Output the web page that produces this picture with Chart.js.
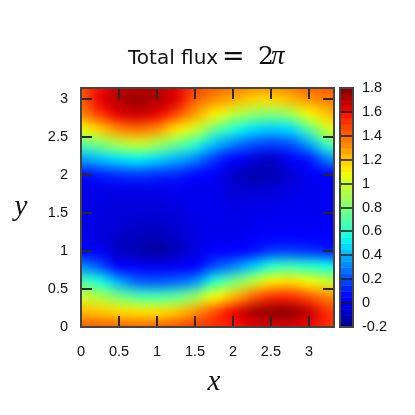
<!DOCTYPE html>
<html>
<head>
<meta charset="utf-8">
<script src="https://cdn.jsdelivr.net/npm/chart.js@4.4.1/dist/chart.umd.min.js"></script>
<style>
  html, body { margin: 0; padding: 0; background: #fff; }
  #wrap { width: 415px; height: 415px; }
</style>
</head>
<body>
<div id="wrap"><canvas id="chart" width="415" height="415"></canvas></div>
<script>
// grid nodes (x across, y up)
const xNodes = [0, 0.25, 0.5, 0.75, 1, 1.25, 1.5, 1.75, 2, 2.25, 2.5, 2.75, 3, 3.25, 3.5];
const yNodes = [0, 0.2, 0.4, 0.6, 0.8, 1, 1.2, 1.4, 1.6, 1.8, 2, 2.2, 2.4, 2.6, 2.8, 3, 3.2];

// flux values, one row per y node (bottom row first)
const fluxRows = [
  [1.42, 1.42, 1.41, 1.40, 1.42, 1.45, 1.50, 1.53, 1.57, 1.62, 1.63, 1.63, 1.60, 1.53, 1.48],
  [1.23, 1.20, 1.16, 1.14, 1.14, 1.19, 1.30, 1.45, 1.60, 1.72, 1.77, 1.77, 1.68, 1.52, 1.45],
  [0.99, 0.92, 0.80, 0.70, 0.68, 0.73, 0.86, 1.08, 1.22, 1.40, 1.52, 1.53, 1.44, 1.33, 1.27],
  [0.68, 0.57, 0.38, 0.24, 0.22, 0.25, 0.33, 0.60, 0.78, 0.94, 1.11, 1.15, 1.08, 0.99, 0.93],
  [0.32, 0.21, 0.05, 0.00, -0.01, 0.00, 0.04, 0.20, 0.30, 0.44, 0.60, 0.65, 0.60, 0.55, 0.50],
  [0.04, 0.00, -0.08, -0.11, -0.14, -0.10, -0.03, 0.02, 0.04, 0.08, 0.16, 0.17, 0.15, 0.11, 0.09],
  [-0.02, -0.04, -0.07, -0.09, -0.10, -0.07, -0.03, -0.01, -0.01, 0.01, 0.02, 0.02, 0.02, 0.02, 0.01],
  [-0.02, -0.03, -0.05, -0.06, -0.07, -0.05, -0.02, -0.01, -0.02, -0.01, 0.00, 0.00, 0.00, 0.00, 0.00],
  [-0.02, -0.03, -0.04, -0.04, -0.04, -0.03, -0.01, -0.01, -0.03, -0.02, -0.02, -0.01, -0.01, -0.01, -0.01],
  [-0.02, -0.02, -0.02, -0.02, -0.02, -0.01, -0.01, -0.01, -0.05, -0.06, -0.05, -0.03, -0.01, -0.01, -0.01],
  [0.07, 0.11, 0.14, 0.16, 0.14, 0.12, 0.07, 0.01, -0.07, -0.11, -0.11, -0.06, 0.00, 0.04, 0.08],
  [0.36, 0.42, 0.48, 0.51, 0.46, 0.39, 0.30, 0.15, 0.03, -0.04, -0.08, 0.00, 0.09, 0.30, 0.40],
  [0.70, 0.80, 0.91, 0.98, 0.89, 0.76, 0.61, 0.42, 0.30, 0.21, 0.17, 0.20, 0.37, 0.65, 0.76],
  [1.08, 1.19, 1.33, 1.38, 1.31, 1.14, 1.01, 0.76, 0.59, 0.49, 0.45, 0.48, 0.72, 1.01, 1.08],
  [1.33, 1.50, 1.63, 1.67, 1.62, 1.47, 1.28, 1.12, 0.97, 0.86, 0.82, 0.88, 1.09, 1.21, 1.25],
  [1.42, 1.62, 1.72, 1.75, 1.72, 1.64, 1.43, 1.33, 1.26, 1.18, 1.17, 1.23, 1.31, 1.36, 1.38],
  [1.46, 1.58, 1.65, 1.68, 1.67, 1.60, 1.50, 1.43, 1.39, 1.34, 1.33, 1.38, 1.42, 1.45, 1.46],
];

const xTicks = [0, 0.5, 1, 1.5, 2, 2.5, 3];
const xTickLabels = ["0", "0.5", "1", "1.5", "2", "2.5", "3"];
const yTicks = [0, 0.5, 1, 1.5, 2, 2.5, 3];
const yTickLabels = ["0", "0.5", "1", "1.5", "2", "2.5", "3"];
const cbTicks = [-0.2, 0, 0.2, 0.4, 0.6, 0.8, 1, 1.2, 1.4, 1.6, 1.8];
const cbLabels = ["-0.2", "0", "0.2", "0.4", "0.6", "0.8", "1", "1.2", "1.4", "1.6", "1.8"];

const zMin = -0.2;
const zMax = 1.8;
const xMax = 3.33;
const yMax = Math.PI;

function lerpTable(t, table) {
  for (let i = 1; i < table.length; i++) {
    if (t <= table[i][0]) {
      const [t0, v0] = table[i - 1];
      const [t1, v1] = table[i];
      return v0 + (v1 - v0) * (t - t0) / (t1 - t0);
    }
  }
  return table[table.length - 1][1];
}

// jet colormap
function jet(v) {
  const t = Math.min(1, Math.max(0, (v - zMin) / (zMax - zMin)));
  const r = lerpTable(t, [[0, 0], [0.35, 0], [0.66, 1], [0.89, 1], [1, 0.5]]);
  const g = lerpTable(t, [[0, 0], [0.125, 0], [0.375, 1], [0.64, 1], [0.91, 0], [1, 0]]);
  const b = lerpTable(t, [[0, 0.5], [0.11, 1], [0.34, 1], [0.65, 0], [1, 0]]);
  return [Math.round(r * 255), Math.round(g * 255), Math.round(b * 255)];
}

const heatmap = {
  id: "heatmap",
  beforeDatasetsDraw(chart) {
    const { ctx, chartArea, scales } = chart;
    const nx = xNodes.length;
    const ny = yNodes.length;
    const off = document.createElement("canvas");
    off.width = nx;
    off.height = ny;
    const octx = off.getContext("2d");
    const img = octx.createImageData(nx, ny);
    for (let j = 0; j < ny; j++) {
      const row = fluxRows[ny - 1 - j]; // image rows go top down
      for (let i = 0; i < nx; i++) {
        const [r, g, b] = jet(row[i]);
        const k = (j * nx + i) * 4;
        img.data[k] = r;
        img.data[k + 1] = g;
        img.data[k + 2] = b;
        img.data[k + 3] = 255;
      }
    }
    octx.putImageData(img, 0, 0);

    const dx = xNodes[1] - xNodes[0];
    const dy = yNodes[1] - yNodes[0];
    const left = scales.x.getPixelForValue(xNodes[0] - dx / 2);
    const right = scales.x.getPixelForValue(xNodes[nx - 1] + dx / 2);
    const top = scales.y.getPixelForValue(yNodes[ny - 1] + dy / 2);
    const bottom = scales.y.getPixelForValue(yNodes[0] - dy / 2);

    ctx.save();
    ctx.beginPath();
    ctx.rect(chartArea.left, chartArea.top, chartArea.width, chartArea.height);
    ctx.clip();
    ctx.imageSmoothingEnabled = true;
    ctx.imageSmoothingQuality = "high";
    ctx.drawImage(off, left, top, right - left, bottom - top);
    ctx.restore();
  },
  afterDatasetsDraw(chart) {
    const { ctx, chartArea, scales } = chart;
    const { left, right, top, bottom } = chartArea;
    ctx.save();
    ctx.strokeStyle = "#2a2a2a";
    ctx.lineWidth = 2;
    // inner ticks on all four sides
    ctx.beginPath();
    xTicks.forEach((v) => {
      if (v <= 0) return;
      const x = Math.round(scales.x.getPixelForValue(v));
      ctx.moveTo(x, bottom);
      ctx.lineTo(x, bottom - 11);
      ctx.moveTo(x, top);
      ctx.lineTo(x, top + 11);
    });
    yTicks.forEach((v) => {
      if (v <= 0) return;
      const y = Math.round(scales.y.getPixelForValue(v));
      ctx.moveTo(left, y);
      ctx.lineTo(left + 11, y);
      ctx.moveTo(right, y);
      ctx.lineTo(right - 11, y);
    });
    ctx.stroke();
    ctx.strokeStyle = "#444";
    ctx.strokeRect(left, top, right - left, bottom - top);

    // colour bar
    const cb = scales.cb;
    const bx = right + 6;
    const bw = 13;
    const steps = 40;
    for (let s = 0; s < steps; s++) {
      const v0 = zMin + (zMax - zMin) * s / steps;
      const v1 = zMin + (zMax - zMin) * (s + 1) / steps;
      const [r, g, b] = jet((v0 + v1) / 2);
      ctx.fillStyle = `rgb(${r},${g},${b})`;
      const y0 = cb.getPixelForValue(v0);
      const y1 = cb.getPixelForValue(v1);
      ctx.fillRect(bx, y1, bw, y0 - y1 + 0.5);
    }
    ctx.strokeStyle = "#1a1a1a";
    ctx.lineWidth = 1.5;
    ctx.beginPath();
    cbTicks.forEach((v) => {
      const y = Math.round(cb.getPixelForValue(v));
      ctx.moveTo(bx, y);
      ctx.lineTo(bx + bw, y);
    });
    ctx.stroke();
    ctx.strokeStyle = "#444";
    ctx.lineWidth = 2;
    ctx.strokeRect(bx, top, bw, bottom - top);
    ctx.restore();
  },
  afterDraw(chart) {
    const { ctx } = chart;
    ctx.save();
    ctx.fillStyle = "#111";
    ctx.textBaseline = "alphabetic";
    ctx.textAlign = "left";
    // title: "Total flux = 2π"
    ctx.font = '20px "DejaVu Sans"';
    ctx.fillText("Total flux", 128, 64);
    ctx.font = '27px "DejaVu Serif"';
    ctx.fillText("=", 222, 65);
    ctx.font = '25px "DejaVu Serif"';
    ctx.fillText("2", 258, 64);
    ctx.font = 'italic 27px "Liberation Serif"';
    ctx.fillText("π", 271, 64);
    // axis names
    ctx.font = 'italic 29px "Liberation Serif"';
    ctx.textAlign = "center";
    ctx.fillText("x", 214, 390);
    ctx.fillText("y", 21, 215);
    ctx.restore();
  },
};

const tickFont = { family: "'Liberation Sans', Arial, sans-serif", size: 14.5 };

new Chart(document.getElementById("chart"), {
  type: "scatter",
  data: { datasets: [] },
  options: {
    responsive: false,
    animation: false,
    devicePixelRatio: 1,
    layout: { padding: { top: 88, left: 0, right: 0, bottom: 0 } },
    plugins: {
      legend: { display: false },
      tooltip: { enabled: false },
      title: { display: false },
    },
    scales: {
      x: {
        type: "linear",
        position: "bottom",
        min: 0,
        max: xMax,
        display: true,
        grid: { display: false, drawTicks: false },
        border: { display: false },
        ticks: {
          font: tickFont,
          color: "#111",
          padding: 16,
          maxRotation: 0,
          callback: (v, i) => xTickLabels[i],
        },
        afterBuildTicks: (s) => { s.ticks = xTicks.map((v) => ({ value: v })); },
        afterFit: (s) => { s.height = 88; },
      },
      y: {
        type: "linear",
        position: "left",
        min: 0,
        max: yMax,
        display: true,
        grid: { display: false, drawTicks: false },
        border: { display: false },
        ticks: {
          font: tickFont,
          color: "#111",
          padding: 13,
          callback: (v, i) => yTickLabels[i],
        },
        afterBuildTicks: (s) => { s.ticks = yTicks.map((v) => ({ value: v })); },
        afterFit: (s) => { s.width = 81; },
      },
      cb: {
        type: "linear",
        position: "right",
        min: zMin,
        max: zMax,
        display: true,
        grid: { display: false, drawTicks: false },
        border: { display: false },
        ticks: {
          font: tickFont,
          color: "#111",
          padding: 28,
          callback: (v, i) => cbLabels[i],
        },
        afterBuildTicks: (s) => { s.ticks = cbTicks.map((v) => ({ value: v })); },
        afterFit: (s) => { s.width = 81; },
      },
    },
  },
  plugins: [heatmap],
});
</script>
</body>
</html>
